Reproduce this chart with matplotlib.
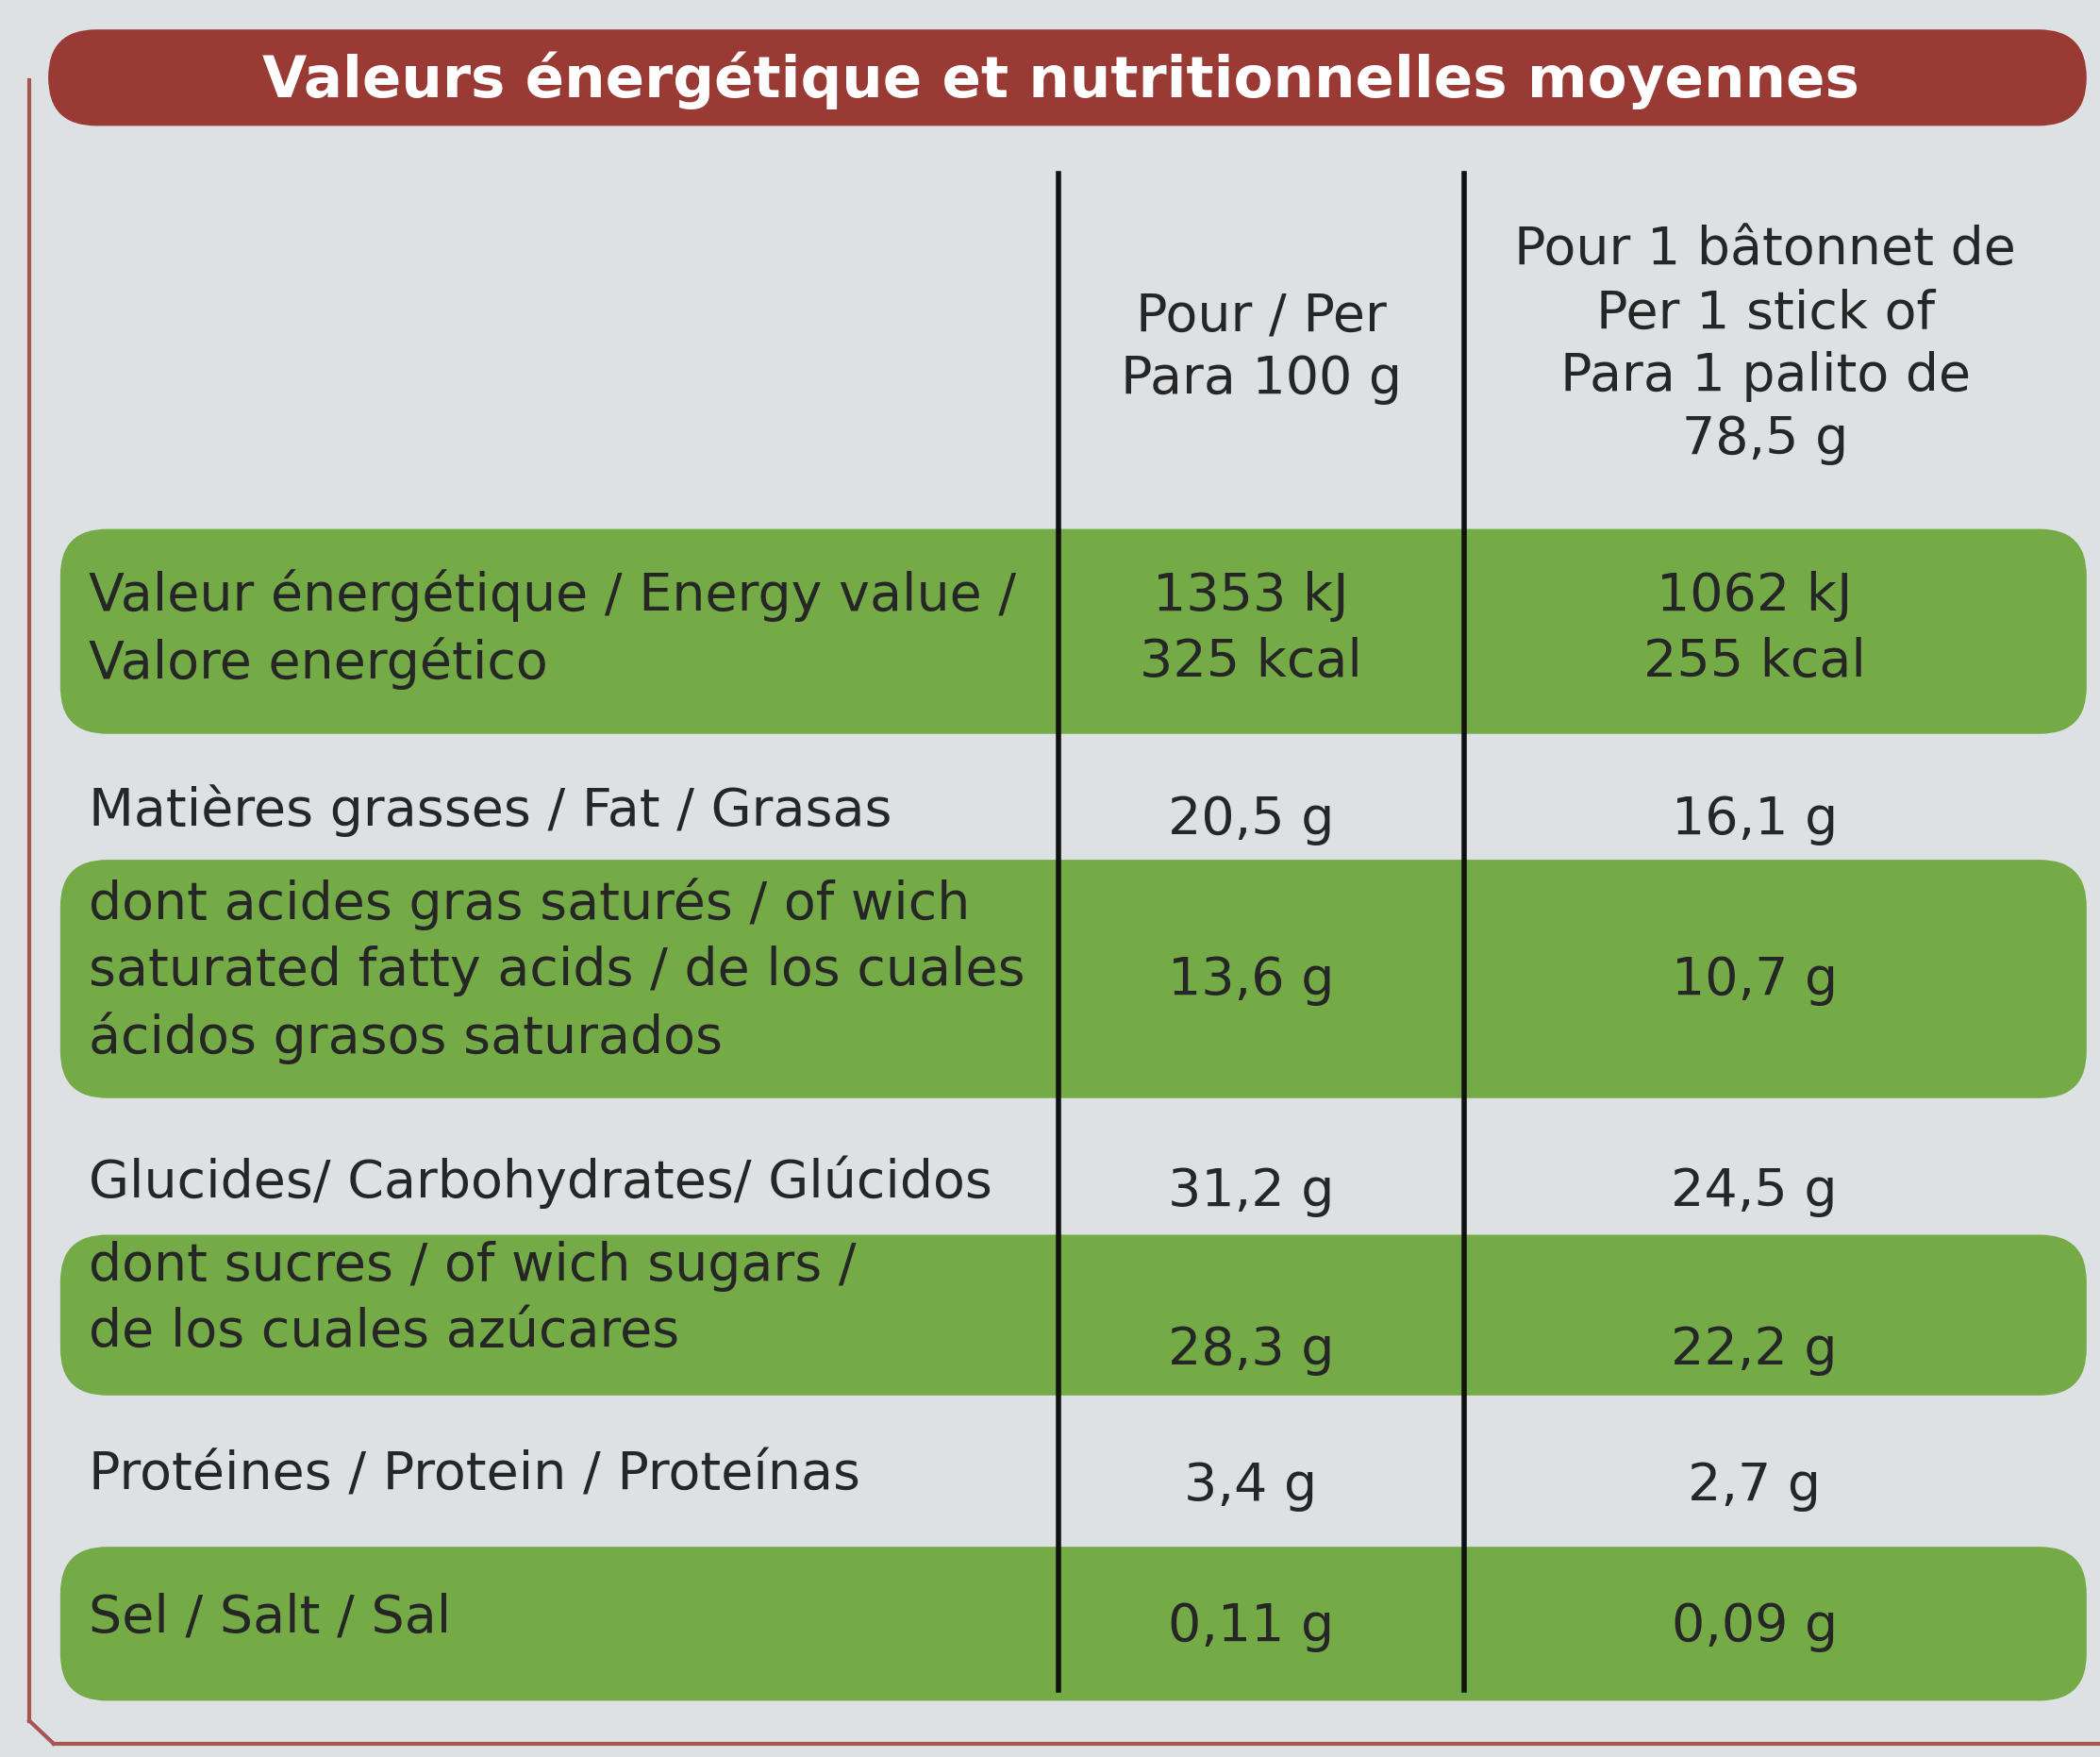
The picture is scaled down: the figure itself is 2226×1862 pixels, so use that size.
import matplotlib
matplotlib.use("Agg")
import matplotlib.pyplot as plt
from matplotlib.patches import FancyBboxPatch

title = "Valeurs énergétique et nutritionnelles moyennes"
col_headers = ["Pour / Per\nPara 100 g", "Pour 1 bâtonnet de\nPer 1 stick of\nPara 1 palito de\n78,5 g"]
row_labels = ["Valeur énergétique / Energy value /\nValore energético",
              "Matières grasses / Fat / Grasas",
              "dont acides gras saturés / of wich\nsaturated fatty acids / de los cuales\nácidos grasos saturados",
              "Glucides/ Carbohydrates/ Glúcidos",
              "dont sucres / of wich sugars /\nde los cuales azúcares",
              "Protéines / Protein / Proteínas",
              "Sel / Salt / Sal"]
per100 = ["1353 kJ\n325 kcal", "20,5 g", "13,6 g", "31,2 g", "28,3 g", "3,4 g", "0,11 g"]
perstick = ["1062 kJ\n255 kcal", "16,1 g", "10,7 g", "24,5 g", "22,2 g", "2,7 g", "0,09 g"]

W, H = 1568, 1312
fig = plt.figure(figsize=(22.26, 18.62), dpi=100)
ax = fig.add_axes([0, 0, 1, 1])
ax.set_xlim(0, W); ax.set_ylim(H, 0); ax.axis("off")
fig.patch.set_facecolor("#dde1e3")

fam = ["Liberation Sans Narrow", "DejaVu Sans"]
fs = 40
tc = "#262626"
green = "#74ab47"
red = "#9a3a35"

ax.plot([22, 22], [60, 1285], color="#a8544f", lw=3)
ax.plot([40, 1568], [1302, 1302], color="#a8544f", lw=3)
ax.plot([22, 40], [1285, 1302], color="#a8544f", lw=3)

ax.add_patch(FancyBboxPatch((36, 22), 1522, 72, boxstyle="round,pad=0,rounding_size=36",
                            fc=red, ec="none"))
ax.text(792, 60, title, ha="center", va="center", color="white", fontsize=44,
        fontweight="bold", family=["DejaVu Sans"])

bands = [(395, 548), (642, 820), (922, 1042), (1155, 1270)]
for y0, y1 in bands:
    ax.add_patch(FancyBboxPatch((45, y0), 1513, y1 - y0, boxstyle="round,pad=0,rounding_size=35",
                                fc=green, ec="none"))

for x in [790, 1093]:
    ax.plot([x, x], [130, 1262], color="#111111", lw=4)

ax.text(942, 260, col_headers[0], ha="center", va="center", fontsize=fs, color=tc,
        family=fam, linespacing=1.3)
ax.text(1318, 258, col_headers[1], ha="center", va="center", fontsize=fs, color=tc,
        family=fam, linespacing=1.3)

label_y = [470, 605, 725, 883, 970, 1102, 1208]
val_y = [470, 612, 732, 890, 1008, 1110, 1215]
for lab, a, b, ly, vy in zip(row_labels, per100, perstick, label_y, val_y):
    ax.text(66, ly, lab, ha="left", va="center", fontsize=fs, color=tc, family=fam, linespacing=1.38)
    ax.text(934, vy, a, ha="center", va="center", fontsize=fs, color=tc, family=fam, linespacing=1.38)
    ax.text(1310, vy, b, ha="center", va="center", fontsize=fs, color=tc, family=fam, linespacing=1.38)

fig.savefig("out.png", dpi=100, facecolor=fig.get_facecolor())
